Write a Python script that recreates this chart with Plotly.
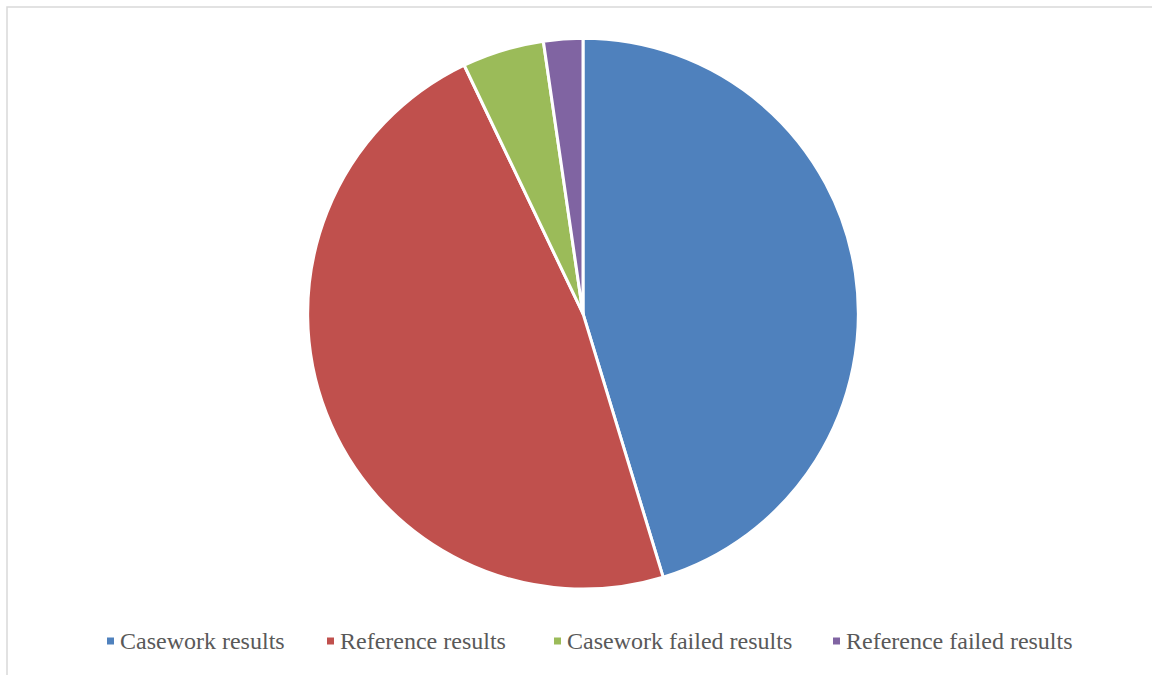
import plotly.graph_objects as go

labels = ["Casework results", "Reference results", "Casework failed results", "Reference failed results"]
values = [45.3, 47.6, 4.8, 2.3]
colors = ["#4F81BD", "#C0504D", "#9BBB59", "#8064A2"]

W, H = 1152, 675

# legend layout (pixel positions of each entry's text start)
legend_text_x = [120, 340, 567, 846]
legend_y = 641

fig = go.Figure(go.Pie(
    labels=labels,
    values=values,
    sort=False,
    direction="clockwise",
    rotation=0,
    marker=dict(colors=colors, line=dict(color="white", width=3)),
    textinfo="none",
    hoverinfo="label+percent",
    domain=dict(x=[307.5 / W, 858.5 / W], y=[86 / H, 636.7 / H]),
    showlegend=False,
))

shapes = [dict(
    type="rect", xref="paper", yref="paper",
    x0=7 / W, x1=1.02, y0=-0.02, y1=1 - 7 / H,
    line=dict(color="#D9D9D9", width=1.5),
    fillcolor="rgba(0,0,0,0)",
    layer="below",
)]
annotations = []
for lab, col, tx in zip(labels, colors, legend_text_x):
    shapes.append(dict(
        type="rect", xref="paper", yref="paper",
        x0=(tx - 13) / W, x1=(tx - 6) / W,
        y0=1 - (legend_y + 3.5) / H, y1=1 - (legend_y - 3.5) / H,
        line=dict(width=0), fillcolor=col,
    ))
    annotations.append(dict(
        text=lab, xref="paper", yref="paper",
        x=(tx - 2) / W, y=1 - legend_y / H,
        xanchor="left", yanchor="middle", showarrow=False,
        font=dict(family="Liberation Serif, Times New Roman, serif", size=24, color="#595959"),
    ))

fig.update_layout(
    width=W, height=H,
    margin=dict(l=0, r=0, t=0, b=0),
    paper_bgcolor="white",
    plot_bgcolor="white",
    showlegend=False,
    shapes=shapes,
    annotations=annotations,
)

fig.write_html("out.html")
